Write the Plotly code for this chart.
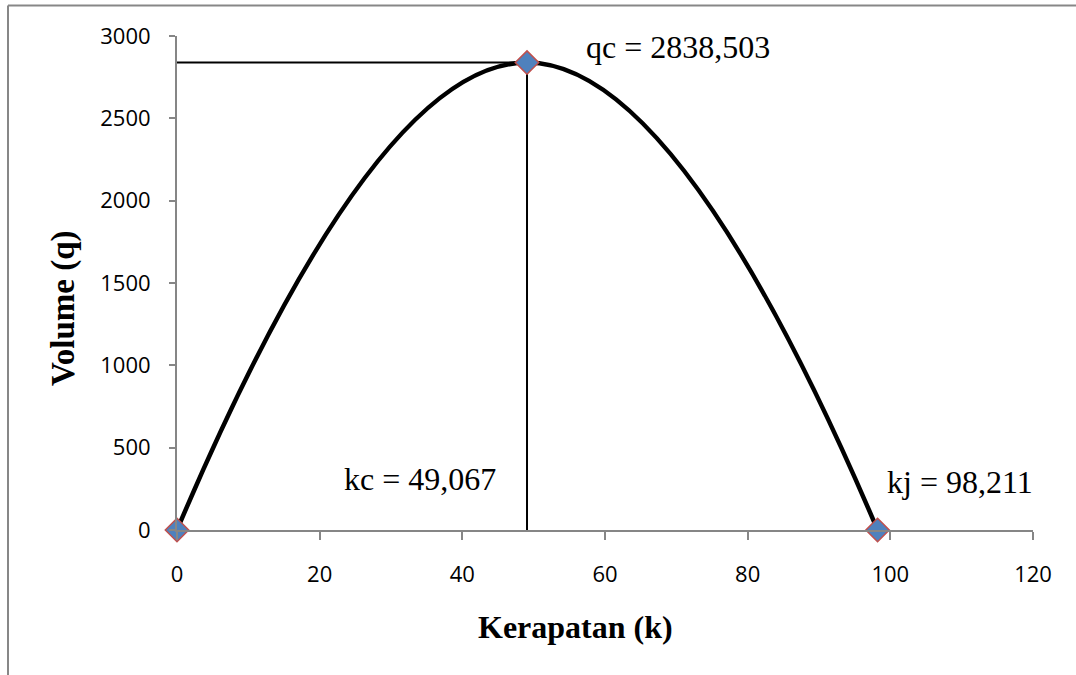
import plotly.graph_objects as go

# Greenshields fundamental diagram: density k vs. flow q
kerapatan = [0, 49.067, 98.211]
volume = [0, 2838.503, 0]
kc = 49.067
qc = 2838.503
kj = 98.211

x_ticks = [0, 20, 40, 60, 80, 100, 120]
y_ticks = [0, 500, 1000, 1500, 2000, 2500, 3000]

# plot-area geometry in pixels (used to place the frame and titles)
W, H = 1076, 675
L, R, T, B = 177, 43, 36, 145
pw, ph = W - L - R, H - T - B


def px_x(px):
    return (px - L) / pw


def px_y(py):
    return (H - B - py) / ph


def decimal_comma(v):
    return f"{v:.3f}".replace(".", ",")


axis_grey = "#868686"
serif = "Liberation Serif, Times New Roman, serif"
sans = "Open Sans, Arial, sans-serif"

fig = go.Figure()

fig.add_trace(go.Scatter(
    x=kerapatan, y=volume,
    mode="lines+markers",
    line=dict(color="black", width=4.5, shape="spline", smoothing=1.3),
    marker=dict(symbol="diamond", size=18, color="#4F81BD",
                line=dict(color="#C0504D", width=1.5)),
    cliponaxis=False,
    showlegend=False,
    hoverinfo="x+y",
))

shapes = [
    # guide lines to the critical point
    dict(type="line", xref="x", yref="y", x0=0, x1=kc, y0=qc, y1=qc,
         line=dict(color="black", width=2), layer="below"),
    dict(type="line", xref="x", yref="y", x0=kc, x1=kc, y0=qc, y1=0,
         line=dict(color="black", width=2), layer="below"),
    # chart frame (top and left edges)
    dict(type="line", xref="paper", yref="paper",
         x0=px_x(8), x1=px_x(1090), y0=px_y(5.5), y1=px_y(5.5),
         line=dict(color="#878787", width=2)),
    dict(type="line", xref="paper", yref="paper",
         x0=px_x(8), x1=px_x(8), y0=px_y(5.5), y1=px_y(690),
         line=dict(color="#878787", width=2)),
]

annotations = [
    dict(text=f"qc = {decimal_comma(qc)}",
         xref="paper", yref="paper", x=px_x(584), y=px_y(47),
         xanchor="left", yanchor="middle", showarrow=False,
         font=dict(family=serif, size=32, color="black")),
    dict(text=f"kc = {decimal_comma(kc)}",
         xref="paper", yref="paper", x=px_x(498), y=px_y(479),
         xanchor="right", yanchor="middle", showarrow=False,
         font=dict(family=serif, size=32, color="black")),
    dict(text=f"kj = {decimal_comma(kj)}",
         xref="paper", yref="paper", x=px_x(885), y=px_y(482),
         xanchor="left", yanchor="middle", showarrow=False,
         font=dict(family=serif, size=32, color="black")),
    dict(text="<b>Kerapatan (k)</b>",
         xref="paper", yref="paper", x=px_x(575), y=px_y(627),
         xanchor="center", yanchor="middle", showarrow=False,
         font=dict(family=serif, size=32, color="black")),
    dict(text="<b>Volume (q)</b>", textangle=-90,
         xref="paper", yref="paper", x=px_x(63), y=px_y(308),
         xanchor="center", yanchor="middle", showarrow=False,
         font=dict(family=serif, size=33, color="black")),
]

fig.update_layout(
    width=W, height=H,
    margin=dict(l=L, r=R, t=T, b=B, pad=0),
    paper_bgcolor="white",
    plot_bgcolor="white",
    shapes=shapes,
    annotations=annotations,
    xaxis=dict(
        range=[0, 120], tickvals=x_ticks, ticktext=[str(v) for v in x_ticks],
        showgrid=False, zeroline=False,
        showline=True, linecolor=axis_grey, linewidth=2,
        ticks="outside", ticklen=8, tickwidth=2, tickcolor=axis_grey,
        ticklabelstandoff=16,
        tickfont=dict(family=sans, size=22, color="black"),
    ),
    yaxis=dict(
        range=[0, 3000], tickvals=y_ticks, ticktext=[str(v) for v in y_ticks],
        showgrid=False, zeroline=False,
        showline=True, linecolor=axis_grey, linewidth=2,
        ticks="outside", ticklen=6, tickwidth=2, tickcolor=axis_grey,
        ticklabelstandoff=14,
        tickfont=dict(family=sans, size=22, color="black"),
    ),
)

fig.write_html("out.html")
